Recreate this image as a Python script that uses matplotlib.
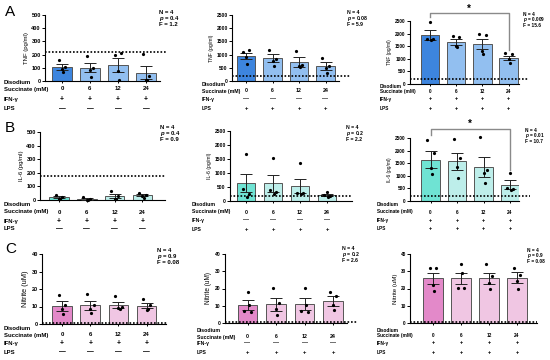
import numpy as np
import matplotlib
matplotlib.use("Agg")
import matplotlib.pyplot as plt
from matplotlib.transforms import blended_transform_factory

plt.rcParams["font.family"] = ["Liberation Sans", "DejaVu Sans"]
plt.rcParams["font.weight"] = "bold"
plt.rcParams["mathtext.fontset"] = "custom"
plt.rcParams["mathtext.it"] = "Liberation Sans:italic:bold"
plt.rcParams["mathtext.rm"] = "Liberation Sans:bold"

W, H = 550, 360

doses = ["0", "6", "12", "24"]

# TNF (pg/ml)
tnf_ifn_mean = [105, 100, 120, 62]
tnf_ifn_sem = [24, 34, 52, 49]
tnf_ifn_pts = [[160, 105, 90, 65], [190, 100, 80, 30], [200, 215, 75, 10], [205, 38, 10, 5]]

tnf_lps_mean = [945, 855, 716, 565]
tnf_lps_sem = [125, 150, 176, 138]
tnf_lps_pts = [[1080, 1170, 920, 660], [1190, 820, 760, 580], [1150, 620, 560, 540], [880, 560, 480, 320]]

tnf_both_mean = [1950, 1680, 1590, 1040]
tnf_both_sem = [190, 115, 190, 80]
tnf_both_pts = [[1800, 1780, 2480, 1760], [1900, 1880, 1520, 1480], [1970, 1950, 1290, 1180], [1230, 1200, 1000, 820]]

# IL-6 (pg/ml)
il6_ifn_mean = [20, 8, 28, 35]
il6_ifn_sem = [8, 5, 14, 8]
il6_ifn_pts = [[40, 25, 10, 5], [25, 5, 2, 0], [65, 30, 10, 5], [55, 40, 30, 15]]

il6_lps_mean = [628, 628, 535, 215]
il6_lps_sem = [320, 290, 260, 45]
il6_lps_pts = [[420, 260, 1680, 150], [380, 330, 1550, 250], [280, 270, 1350, 250], [210, 180, 330, 150]]

il6_both_mean = [1645, 1580, 1350, 650]
il6_both_sem = [320, 330, 400, 170]
il6_both_pts = [[2430, 1900, 1300, 1060], [2460, 1700, 1350, 900], [2530, 1250, 1100, 700], [520, 480, 1120, 420]]

# Nitrite (uM)
no_ifn_mean = [10.5, 10.8, 10.9, 10.5]
no_ifn_sem = [2.8, 2.6, 1.6, 1.5]
no_ifn_pts = [[16.8, 11, 8.5, 5.5], [17.3, 11, 8.8, 6.3], [15.8, 10, 9.1, 8.8], [14.3, 11, 8.2, 8.8]]

no_lps_mean = [10.3, 10.8, 11, 12.8]
no_lps_sem = [3.0, 3.7, 3.4, 2.8]
no_lps_pts = [[7.1, 6.2, 17.8, 10.6], [20.3, 11.6, 8.1, 4.4], [7.1, 6.2, 20.3, 10.6], [18, 15.8, 10.6, 7.7]]

no_both_mean = [25.8, 25.8, 25.8, 26.3]
no_both_sem = [3.4, 3.4, 3.2, 3.0]
no_both_pts = [[32, 32, 22, 18.5], [20.3, 20.5, 34.2, 29], [34.4, 27.4, 23.2, 19.7], [31.9, 28, 24.2, 19.7]]

blue = ("#3d85de", "#92bff0")
teal = ("#6fe3d3", "#bdeeea")
pink = ("#e389c9", "#f0c6e3")

# px = (axis left, axis right, first bar centre, bar spacing, axis top, axis bottom, dotted end)
panels = [
    dict(mean=tnf_ifn_mean, sem=tnf_ifn_sem, pts=tnf_ifn_pts, ylab="TNF (pg/ml)", ymax=500, step=100,
         col=blue, lod=220, ifn="+", lps="—", p="0.4", F="1.2", px=(45, 160, 62, 28, 15, 81, 167),
         stat=(159, 12), lab_x=4, rows=(83, 89, 99, 109)),
    dict(mean=tnf_lps_mean, sem=tnf_lps_sem, pts=tnf_lps_pts, ylab="TNF (pg/ml)", ymax=2500, step=500,
         col=blue, lod=200, ifn="—", lps="+", p="0.08", F="5.9", px=(232, 339, 246, 26.5, 15, 81, 350),
         stat=(347, 12), lab_x=202, rows=(84, 91, 99, 108)),
    dict(mean=tnf_both_mean, sem=tnf_both_sem, pts=tnf_both_pts, ylab="TNF (pg/ml)", ymax=2500, step=500,
         col=blue, lod=200, ifn="+", lps="+", p="0.009", F="15.6", px=(410, 519, 430, 26.2, 21, 84, 528),
         stat=(523, 14), lab_x=380, rows=(86, 91.5, 99, 108),
         bracket=(2817, 2659, 1349, 2976)),
    dict(mean=il6_ifn_mean, sem=il6_ifn_sem, pts=il6_ifn_pts, ylab="IL-6 (pg/ml)", ymax=500, step=100,
         col=teal, lod=180, ifn="+", lps="—", p="0.4", F="0.9", px=(40, 165, 59, 27.8, 132, 200, 166),
         stat=(160, 127), lab_x=4, rows=(204, 212, 221, 229)),
    dict(mean=il6_lps_mean, sem=il6_lps_sem, pts=il6_lps_pts, ylab="IL-6 (pg/ml)", ymax=2500, step=500,
         col=teal, lod=190, ifn="—", lps="+", p="0.2", F="2.2", px=(230, 352, 246, 27, 131, 201, 352),
         stat=(346, 127), lab_x=192, rows=(205, 212, 220, 230)),
    dict(mean=il6_both_mean, sem=il6_both_sem, pts=il6_both_pts, ylab="IL-6 (pg/ml)", ymax=2500, step=500,
         col=teal, lod=190, ifn="+", lps="+", p="0.01", F="10.7", px=(410, 519, 430.5, 26.5, 138, 201, 530),
         stat=(525, 130), lab_x=377, rows=(204, 212, 220, 229),
         bracket=(2857, 2619, 1230, 3056)),
    dict(mean=no_ifn_mean, sem=no_ifn_sem, pts=no_ifn_pts, ylab="Nitrite (uM)", ymax=40, step=10,
         col=pink, lod=0.3, ifn="+", lps="—", p="0.9", F="0.08", px=(42, 166, 62, 28.2, 254, 324, 167),
         stat=(157, 250), lab_x=4, rows=(329, 335, 343, 352)),
    dict(mean=no_lps_mean, sem=no_lps_sem, pts=no_lps_pts, ylab="Nitrite (uM)", ymax=40, step=10,
         col=pink, lod=0.3, ifn="—", lps="+", p="0.2", F="2.6", px=(225, 347, 247.5, 28.5, 254, 323, 357),
         stat=(342, 248), lab_x=197, rows=(330, 337, 343, 352)),
    dict(mean=no_both_mean, sem=no_both_sem, pts=no_both_pts, ylab="Nitrite (uM)", ymax=40, step=10,
         col=pink, lod=0.3, ifn="+", lps="+", p="0.9", F="0.08", px=(410, 537, 433, 28, 254, 323, 537),
         stat=(527, 250), lab_x=377, rows=(330, 335.5, 343, 353)),
]

jit = [-0.12, 0.12, 0.0, 0.04]
# text sizes differ a little per column in the source figure
col_fs = [4.3, 3.7, 3.4]
col_tick = [4.0, 3.6, 3.4]
col_stat_gap = [6.3, 6.3, 5.7]

fig = plt.figure(figsize=(W / 100, H / 100), dpi=100)


def fy(y):
    return 1 - y / H


for k, p in enumerate(panels):
    c = k % 3
    fs = col_fs[c]
    left, right, c0, s, top, bottom, dot_end = p["px"]
    ax = fig.add_axes([left / W, fy(bottom), (right - left) / W, (bottom - top) / H])
    x = np.arange(4)
    colors = [p["col"][0]] + [p["col"][1]] * 3
    ax.bar(x, p["mean"], width=0.7, color=colors, edgecolor="#555555", linewidth=0.7, zorder=2)
    ax.errorbar(x, p["mean"], yerr=p["sem"], fmt="none", ecolor="#222222",
                elinewidth=0.7, capsize=4.5, capthick=0.7, zorder=3)
    for i in range(4):
        ax.plot(x[i] + np.array(jit), p["pts"][i], "o", ms=2.3, color="black",
                mew=0, zorder=4, clip_on=False)

    x0 = (left - c0) / s
    ax.set_xlim(x0, (right - c0) / s)
    ax.set_ylim(0, p["ymax"])
    ax.plot([x0, (dot_end - c0) / s], [p["lod"], p["lod"]], color="black",
            ls=(0, (1, 1.1)), lw=1.2, clip_on=False, zorder=5)

    for side in ["top", "right"]:
        ax.spines[side].set_visible(False)
    for side in ["left", "bottom"]:
        ax.spines[side].set_linewidth(0.8)
    ax.set_yticks(np.arange(0, p["ymax"] + 1, p["step"]))
    ax.set_xticks(x)
    ax.set_xticklabels([])
    ax.tick_params(axis="y", length=2, width=0.7, labelsize=col_tick[c], pad=1)
    ax.tick_params(axis="x", length=1.5, width=0.7)
    big = p["ylab"].startswith("Nitrite")
    ax.set_ylabel(p["ylab"], fontsize=(fs + 1.0) if big else fs, labelpad=2)

    if "bracket" in p:
        yb, yl, yr, ys = p["bracket"]
        ax.plot([0, 0, 3, 3], [yl, yb, yb, yr], color="#8a8a8a", lw=1.0, clip_on=False, zorder=5)
        ax.text(1.5, ys, "*", ha="center", va="center", fontsize=7, clip_on=False)

    # stats block
    sx, sy = p["stat"]
    for j, t in enumerate(["N = 4", "$p$ = " + p["p"], "F = " + p["F"]]):
        fig.text(sx / W, fy(sy + col_stat_gap[c] * j), t, fontsize=fs, ha="left", va="center")

    # treatment rows under the axis
    r_dis, r_suc, r_ifn, r_lps = p["rows"]
    fig.text(p["lab_x"] / W, fy(r_dis), "Disodium", fontsize=fs, va="center")
    fig.text(p["lab_x"] / W, fy(r_suc), "Succinate (mM)", fontsize=fs, va="center")
    fig.text(p["lab_x"] / W, fy(r_ifn), "IFN-γ", fontsize=fs, va="center")
    fig.text(p["lab_x"] / W, fy(r_lps), "LPS", fontsize=fs, va="center")
    tr = blended_transform_factory(ax.transData, fig.transFigure)
    for i in range(4):
        ax.text(i, fy(r_suc), doses[i], transform=tr, ha="center", va="center", fontsize=fs)
        ax.text(i, fy(r_ifn), p["ifn"], transform=tr, ha="center", va="center", fontsize=fs + 0.6)
        ax.text(i, fy(r_lps), p["lps"], transform=tr, ha="center", va="center", fontsize=fs + 0.6)

for letter, y in [("A", 12), ("B", 128), ("C", 249)]:
    fig.text(5 / W, fy(y), letter, fontsize=11, fontweight="normal", va="center")

fig.savefig("out.png", dpi=100)
